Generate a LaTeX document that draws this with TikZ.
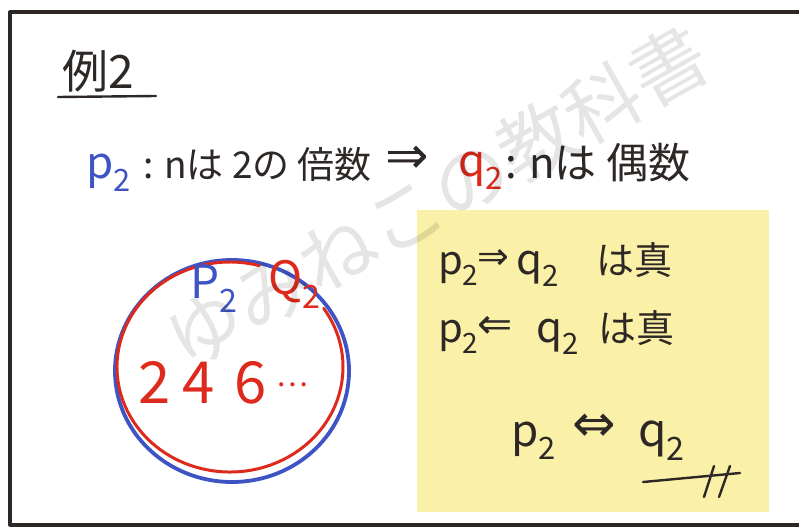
\documentclass[tikz,border=0pt]{standalone}
\usepackage{fontspec}
\usetikzlibrary{shapes.geometric}
\setmainfont{Noto Sans CJK JP}
\newfontfamily\symf{DejaVu Sans}
\definecolor{ink}{RGB}{45,40,38}
\definecolor{pblue}{RGB}{62,84,196}
\definecolor{qred}{RGB}{222,42,28}
\definecolor{note}{RGB}{250,240,168}
\begin{document}
\begin{tikzpicture}[x=1pt,y=-1pt, line cap=round, line join=round,
  fs/.style={font=\fontsize{#1}{#1}\selectfont},
  txt/.style={inner sep=0pt, outer sep=0pt, anchor=base west, text=ink},
  arr/.style={inner sep=0pt, outer sep=0pt, anchor=center, text=ink, font=\symf\fontsize{#1}{#1}\selectfont},
]
\useasboundingbox (0,0) rectangle (799,527);
\clip (0,0) rectangle (799,527);
\fill[white] (0,0) rectangle (799,527);
\draw[ink, line width=3.2] (10,12) rectangle (830,525);

% title
\node[txt, fs=46] (title) at (62,88) {例2};
\coordinate (ulL) at (58,97);
\coordinate (ulR) at (156,96);
\draw[ink, line width=2.4] (ulL) -- (ulR);

% statement line
\node[txt, fs=44, text=pblue] (p2) at (86,178) {p\textsubscript{2}};
\node[txt, fs=37] (def1) at (143,178) {: nは 2の 倍数};
\node[arr=52] (imp) at (407,160) {⇒};
\node[txt, fs=44, text=qred] (q2) at (458,176) {q\textsubscript{2}};
\node[txt, fs=42] (def2) at (505,178) {: nは 偶数};

% circles
\node[draw=pblue, line width=3.8, ellipse, minimum width=234pt, minimum height=222pt, inner sep=0pt] (bluecirc) at (232,371) {};
\coordinate (rc) at (230,367);
\draw[qred, line width=3] ([shift={(rc)}]285:113 and 105) arc[start angle=285, end angle=-34, x radius=113, y radius=105];
\node[txt, fs=46, text=pblue] (plabel) at (190,298) {P\textsubscript{2}};
\node[txt, fs=46, text=qred] (qlabel) at (268,294) {Q\textsubscript{2}};

% elements
\node[txt, fs=58, text=qred] (n2) at (138,403) {2};
\node[txt, fs=58, text=qred] (n4) at (182,403) {4};
\node[txt, fs=58, text=qred] (n6) at (234,403) {6};
\node[txt, fs=30, text=qred] (dots) at (276,386) {⋯};

% note box
\node[fill=note, minimum width=352pt, minimum height=302pt, anchor=north west, inner sep=0pt] (notebox) at (417,210) {};
\node[txt, fs=40] (r1p) at (438,274) {p\textsubscript{2}};
\node[arr=38] (r1a) at (493,259) {⇒};
\node[txt, fs=42] (r1q) at (516,274) {q\textsubscript{2}};
\node[txt, fs=38] (r1t) at (596,274) {は真};
\node[txt, fs=40] (r2p) at (438,342) {p\textsubscript{2}};
\node[arr=42] (r2a) at (495,327) {⇐};
\node[txt, fs=42] (r2q) at (536,342) {q\textsubscript{2}};
\node[txt, fs=38] (r2t) at (598,342) {は真};
\node[txt, fs=44] (r3p) at (511,446) {p\textsubscript{2}};
\node[arr=52] (r3a) at (594,428) {⇔};
\node[txt, fs=46] (r3q) at (638,446) {q\textsubscript{2}};
\coordinate (endL) at (643,482);
\coordinate (endR) at (740,473);
\draw[ink, line width=2.4] (endL) -- (endR);
\coordinate (s1a) at (714,466); \coordinate (s1b) at (704,497);
\coordinate (s2a) at (730,466); \coordinate (s2b) at (719,497);
\draw[ink, line width=2.4] (s1a) -- (s1b);
\draw[ink, line width=2.4] (s2a) -- (s2b);

% watermark
\node[fs=76, text=black, opacity=0.10, rotate=29.5, inner sep=0pt] (wm) at (437,197) {ゆみねこの教科書};
\end{tikzpicture}
\end{document}
